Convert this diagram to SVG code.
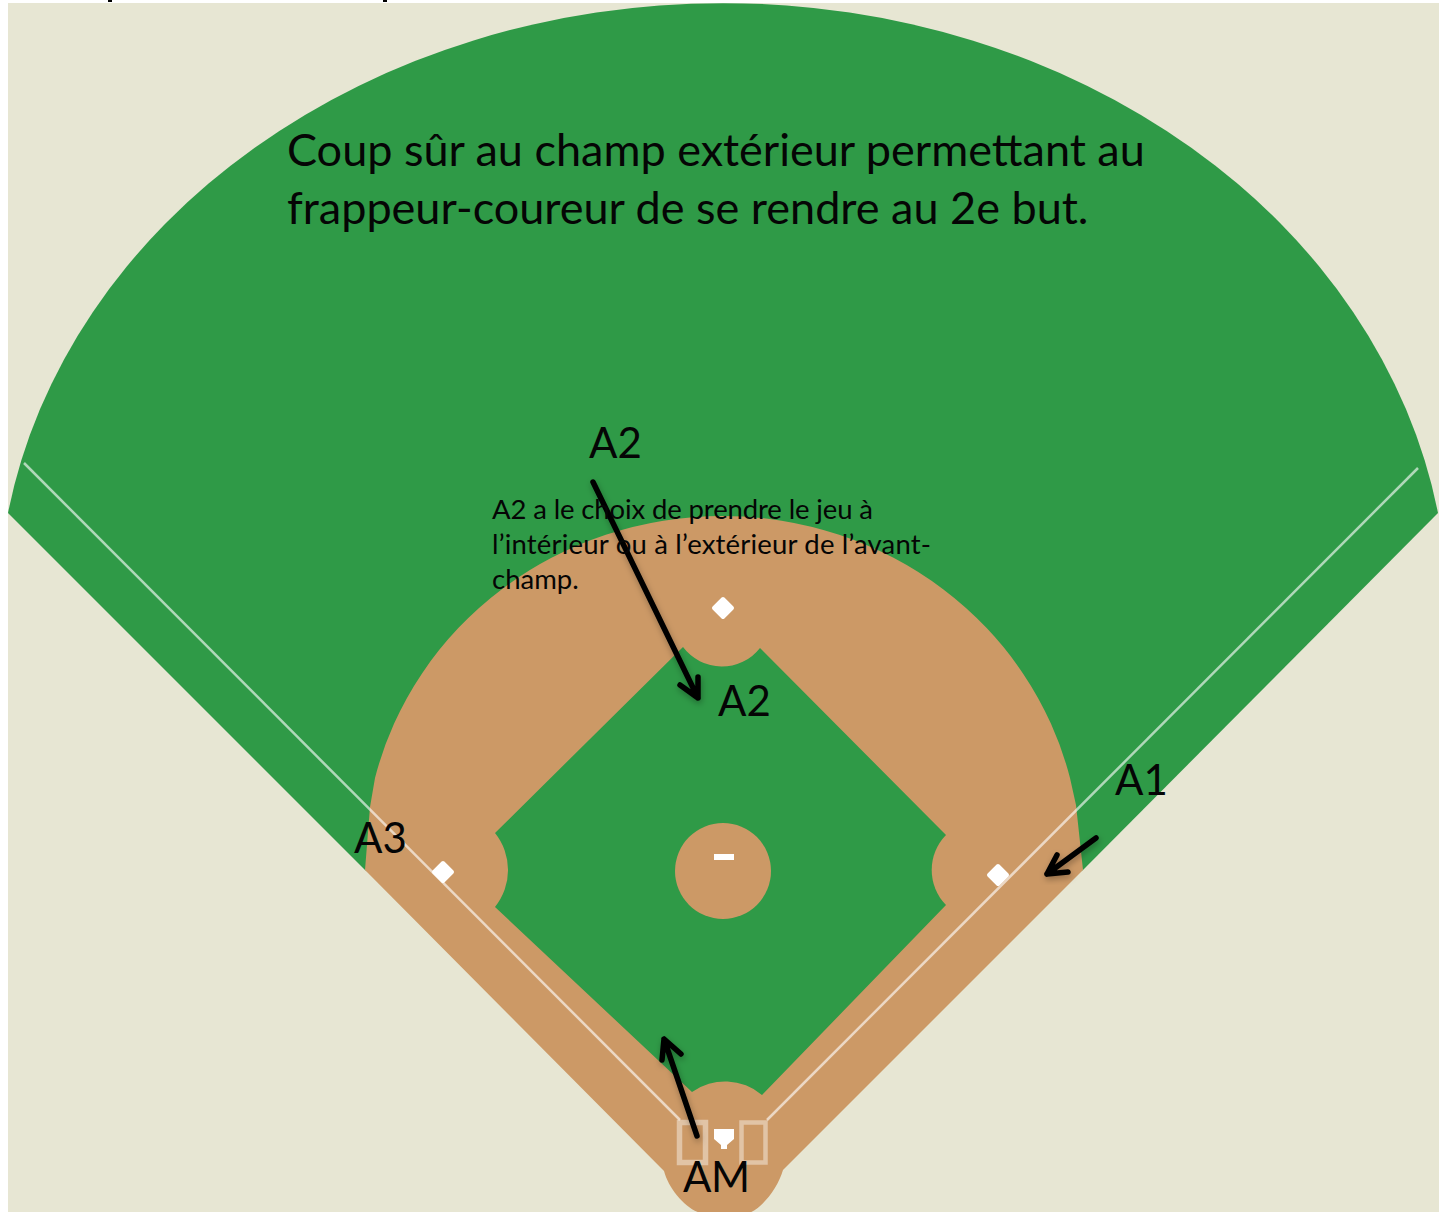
<svg xmlns="http://www.w3.org/2000/svg" width="1439" height="1212" viewBox="0 0 1439 1212">
<defs>
<style>
.big{font-family:"Lato","Open Sans","Liberation Sans",sans-serif;font-size:45px;fill:#050505}
.lab{font-family:"Lato","Open Sans","Liberation Sans",sans-serif;font-size:42px;fill:#050505}
.small{font-family:"Lato","Open Sans","Liberation Sans",sans-serif;font-size:27.5px;fill:#050505}
.grass{fill:#2f9a47}
.dirt{fill:#cc9966}
.base{fill:#fff;stroke:#fff;stroke-width:4;stroke-linejoin:round}
.foul{fill:none;stroke:#fff;stroke-opacity:.62;stroke-width:2.5}
.box{fill:none;stroke:#fff;stroke-opacity:.42}
.arrow{fill:none;stroke:#000;stroke-width:5.5;stroke-linecap:round;stroke-linejoin:round;filter:url(#sh)}
</style>
<filter id="sh" x="-30%" y="-30%" width="160%" height="160%"><feDropShadow dx="1" dy="3" stdDeviation="3" flood-color="#000" flood-opacity=".3"/></filter>
</defs>
<rect width="1439" height="1212" fill="#fff"/>
<g id="clipped-marks">
<rect x="108" y="0" width="4" height="2" fill="#000"/>
<rect x="383" y="0" width="4" height="2" fill="#000"/>
</g>
<g id="field">
<rect x="8" y="3" width="1431" height="1209" fill="#e7e6d3"/>
<path class="grass" d="M8 513A725 611 0 0 1 1438 513L1083 870L723 1100L365 870Z"/>
<path class="dirt" d="M365 870L370 807L375 778A358 345 0 0 1 1070 778L1076 805L1083 870L783 1170C778 1188 760 1212 745 1214H705C688 1212 669 1190 664 1171Z"/>
<path class="grass" d="M495 833L683 647A48.500 48.500 0 0 0 760 648L946 835V905L762 1095A57 57 0 0 0 692 1092L495 907A59 59 0 0 0 495 833Z"/>
<path class="dirt" d="M946 835A50 50 0 0 0 946 905Z"/>
<circle class="dirt" cx="723" cy="871" r="48"/>
</g>
<g id="foul-lines">
<path class="foul" d="M24 463L680 1120"/>
<path class="foul" d="M1418 468L767 1120"/>
</g>
<g id="bases">
<path id="second" class="base" d="M723 599L732 608L723 617L714 608Z"/>
<path id="third" class="base" d="M443 863L452 872L443 881L434 872Z"/>
<path id="first" class="base" d="M998 866L1007 875L998 884L989 875Z"/>
<rect id="rubber" fill="#fff" x="714" y="854" width="20" height="6"/>
<path id="home" fill="#fff" d="M714 1129H734V1139L727 1145V1149H721V1145L714 1139Z"/>
<rect class="box" x="679.500" y="1122.500" width="26" height="40" stroke-width="5.500"/>
<rect class="box" x="741.500" y="1122.500" width="24" height="40" stroke-width="4.500"/>
</g>
<g id="connectors">
<path class="arrow" d="M593 482L698 698M698 677L698 698L680 685"/>
<path class="arrow" d="M1096 838L1047 874M1057 855L1047 874L1068 872"/>
<path class="arrow" d="M697 1136L664 1039M662 1060L664 1039L681 1054"/>
</g>
<g id="labels">
<text class="big" x="287" y="166">Coup sûr au champ extérieur permettant au</text>
<text class="big" x="287" y="224">frappeur-coureur de se rendre au 2e but.</text>
<text class="small" x="492" y="519" textLength="381">A2 a le choix de prendre le jeu à</text>
<text class="small" x="492" y="554" textLength="439">l’intérieur ou à l’extérieur de l’avant-</text>
<text class="small" x="492" y="589">champ.</text>
<text class="lab" x="589" y="458">A2</text>
<text class="lab" x="718" y="716">A2</text>
<text class="lab" x="1115" y="795">A1</text>
<text class="lab" x="354" y="853">A3</text>
<text class="lab" x="683" y="1192" textLength="67">AM</text>
</g>
</svg>
